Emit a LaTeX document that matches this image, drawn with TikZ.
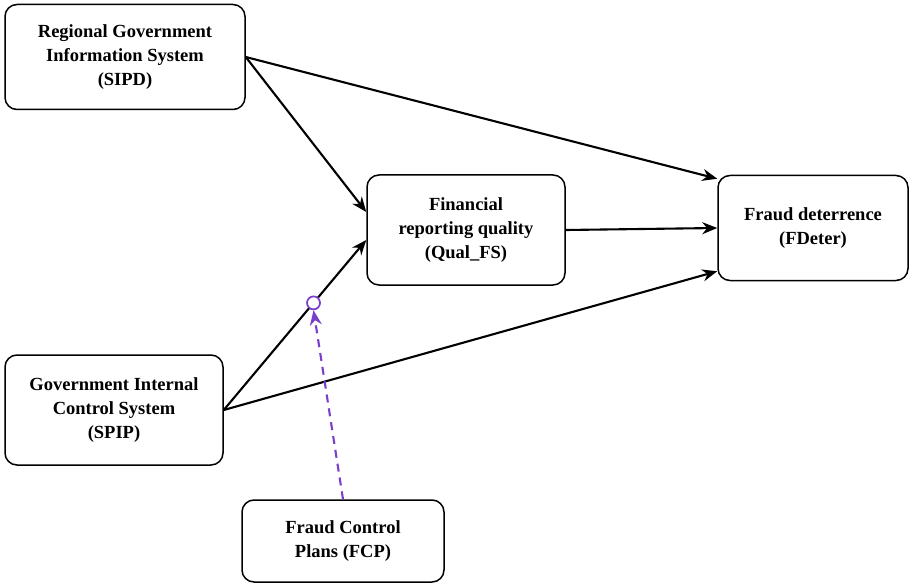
\documentclass[tikz,border=0pt]{standalone}
\usepackage{fontspec}
\setmainfont{Liberation Serif}
\usepackage{tikz}
\usetikzlibrary{arrows.meta,calc}
\definecolor{modpurple}{RGB}{122,62,204}
\tikzset{
  var/.style={draw, line width=1.5pt, rounded corners=12pt, align=center, inner sep=0pt,
    font=\fontsize{18.5}{24}\selectfont\bfseries},
  path/.style={draw, line width=2.1pt, -{Stealth[length=15pt,width=12pt]}},
  modpath/.style={draw=modpurple, line width=2.1pt, dash pattern=on 8pt off 6pt, -{Stealth[length=15pt,width=12pt]}, color=modpurple},
  modpt/.style={circle, draw=modpurple, line width=1.7pt, fill=white, inner sep=0pt, minimum size=13pt}
}
\begin{document}
\begin{tikzpicture}[x=1pt, y=-1pt]
\useasboundingbox (0,0) rectangle (912,588);
\node[var, minimum width=240pt, minimum height=105pt] (sipd) at (125,57) {Regional Government\\Information System\\(SIPD)};
\node[var, minimum width=198pt, minimum height=110pt] (qual) at (466,230) {Financial\\reporting quality\\(Qual\_FS)};
\node[var, minimum width=190pt, minimum height=105pt] (fdeter) at (813,228) {Fraud deterrence\\(FDeter)};
\node[var, minimum width=218pt, minimum height=110pt] (spip) at (114,410) {Government Internal\\Control System\\(SPIP)};
\node[var, minimum width=202pt, minimum height=82pt] (fcp) at (343,541) {Fraud Control\\Plans (FCP)};
% entry points on the mediator and outcome
\coordinate (qualA) at ([yshift=18pt]qual.west);
\coordinate (qualB) at ([yshift=-10pt]qual.west);
\coordinate (fdA) at ([yshift=-4pt]fdeter.north west);
\coordinate (fdB) at ([yshift=10pt]fdeter.south west);
\draw[path] (sipd.east) -- (qualA);
\draw[path] (sipd.east) -- (fdA);
\draw[path] (qual.east) -- (fdeter.west);
\draw[path] (spip.east) -- (qualB);
\draw[path] (spip.east) -- (fdB);
% moderation
\node[modpt] (mod) at ($(spip.east)!0.63!(qualB)$) {};
\draw[modpath] (fcp.north) -- (mod.south);
\end{tikzpicture}
\end{document}
